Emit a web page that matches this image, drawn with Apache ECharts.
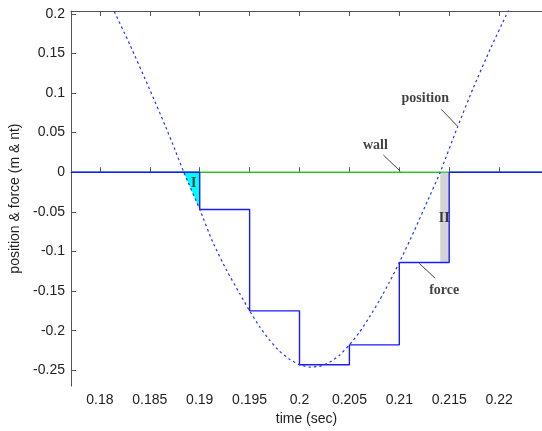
<!DOCTYPE html>
<html>
<head>
<meta charset="utf-8">
<script src="https://cdn.jsdelivr.net/npm/echarts@6/dist/echarts.min.js"></script>
<style>
  html, body { margin: 0; padding: 0; background: #fff; }
  #main { width: 542px; height: 431px; }
</style>
</head>
<body>
<div id="main"></div>
<script>
    var myChart = echarts.init(document.getElementById('main'));

    // position curve
    var posT = [0.1812, 0.1830, 0.1850, 0.1865, 0.1875, 0.1884,
                0.1900, 0.1913, 0.1927, 0.1940, 0.1950,
                0.1960, 0.1970, 0.1980, 0.1990, 0.2000,
                0.2010, 0.2020, 0.2030, 0.2040, 0.2050,
                0.2060, 0.2070, 0.2080, 0.2090, 0.2100,
                0.2115, 0.2128, 0.2141, 0.2158, 0.2174, 0.2191, 0.2207, 0.2212];
    var posV = [0.209, 0.161, 0.104, 0.060, 0.029, 0.000,
                -0.047, -0.088, -0.124, -0.153, -0.175,
                -0.195, -0.212, -0.226, -0.236, -0.243,
                -0.246, -0.245, -0.240, -0.231, -0.218,
                -0.202, -0.183, -0.162, -0.139, -0.114,
                -0.074, -0.037, 0.000, 0.056, 0.106, 0.155, 0.198, 0.211];

    // force, held between samples
    var forceT = [0.1771, 0.190, 0.195, 0.200, 0.205, 0.210, 0.215, 0.2243];
    var forceV = [0, -0.047, -0.175, -0.243, -0.218, -0.114, 0, 0];

    // wall at zero
    var wallT = [0.1771, 0.2243];
    var wallV = [0, 0];

    // shaded regions
    var regionIT = [0.1884, 0.190];
    var regionIV = [0, -0.047];
    var regionIIT = [0.2141, 0.215];
    var regionIIV = [-0.114, -0.114];

    var xTicks = [0.18, 0.185, 0.19, 0.195, 0.2, 0.205, 0.21, 0.215, 0.22];
    var yTicks = [-0.25, -0.2, -0.15, -0.1, -0.05, 0, 0.05, 0.1, 0.15, 0.2];

    // text notes and their leader lines
    var noteText = ['wall', 'position', 'force', 'I', 'II'];
    var noteT = [0.2076, 0.2126, 0.2145, 0.1894, 0.2145];
    var noteV = [0.034, 0.093, -0.149, -0.014, -0.058];
    var leaders = [
        [[0.2084, 0.0217], [0.2101, 0.0013]],
        [[0.2142, 0.0794], [0.2158, 0.0585]],
        [[0.2120, -0.1151], [0.2136, -0.1339]]
    ];

    function pairs(a, b) {
        return a.map(function (v, i) { return [v, b[i]]; });
    }

    var axisCol = '#555';
    var tickFont = { fontFamily: 'Liberation Sans', fontSize: 14, color: '#222' };

    option = {
        backgroundColor: '#fff',
        animation: false,
        grid: { left: 68, right: 0, top: 11, bottom: 42 },
        xAxis: [{
            type: 'value',
            min: 0.1771,
            max: 0.2243,
            name: 'time (sec)',
            nameLocation: 'middle',
            nameGap: 24,
            nameTextStyle: tickFont,
            splitLine: { show: false },
            axisLine: { show: true, lineStyle: { color: axisCol } },
            axisTick: { inside: true, length: 5, customValues: xTicks, lineStyle: { color: axisCol } },
            axisLabel: Object.assign({ margin: 7, customValues: xTicks }, tickFont)
        }, {
            type: 'value',
            position: 'top',
            min: 0.1771,
            max: 0.2243,
            splitLine: { show: false },
            axisLine: { show: true, lineStyle: { color: axisCol } },
            axisTick: { inside: true, length: 5, customValues: xTicks, lineStyle: { color: axisCol } },
            axisLabel: { show: false }
        }],
        yAxis: {
            type: 'value',
            min: -0.27,
            max: 0.2035,
            name: 'position & force (m & nt)',
            nameLocation: 'middle',
            nameGap: 49,
            nameTextStyle: tickFont,
            splitLine: { show: false },
            axisLine: { show: true, lineStyle: { color: axisCol } },
            axisTick: { inside: true, length: 5, customValues: yTicks, lineStyle: { color: axisCol } },
            axisLabel: Object.assign({ margin: 6, customValues: yTicks }, tickFont)
        },
        series: [{
            // region I
            type: 'line',
            data: pairs(regionIT, regionIV),
            symbol: 'none',
            lineStyle: { width: 0 },
            areaStyle: { color: '#00ffff', opacity: 1 },
            z: 1
        }, {
            // region II
            type: 'line',
            data: pairs(regionIIT, regionIIV),
            symbol: 'none',
            lineStyle: { width: 0 },
            areaStyle: { color: '#d4d4d4', opacity: 1 },
            z: 1
        }, {
            name: 'wall',
            type: 'line',
            data: pairs(wallT, wallV),
            symbol: 'none',
            lineStyle: { color: '#22dd22', width: 1.2 },
            z: 2
        }, {
            name: 'force',
            type: 'line',
            step: 'end',
            data: pairs(forceT, forceV),
            symbol: 'none',
            lineStyle: { color: '#1a1aff', width: 1.4 },
            z: 3
        }, {
            name: 'position',
            type: 'line',
            smooth: 0.2,
            data: pairs(posT, posV),
            symbol: 'none',
            lineStyle: { color: '#2233ff', width: 1.2, type: [2.5, 3] },
            z: 4
        }, {
            type: 'lines',
            coordinateSystem: 'cartesian2d',
            data: leaders.map(function (c) { return { coords: c }; }),
            lineStyle: { color: '#444', width: 1, opacity: 1 },
            z: 5
        }, {
            type: 'scatter',
            symbolSize: 0,
            data: noteText.map(function (t, i) { return { name: t, value: [noteT[i], noteV[i]] }; }),
            label: {
                show: true,
                position: 'inside',
                formatter: function (p) { return p.name; },
                fontFamily: 'Liberation Serif',
                fontWeight: 'bold',
                fontSize: 14,
                color: '#111'
            },
            z: 6
        }]
    };

    myChart.setOption(option);
</script>
</body>
</html>
